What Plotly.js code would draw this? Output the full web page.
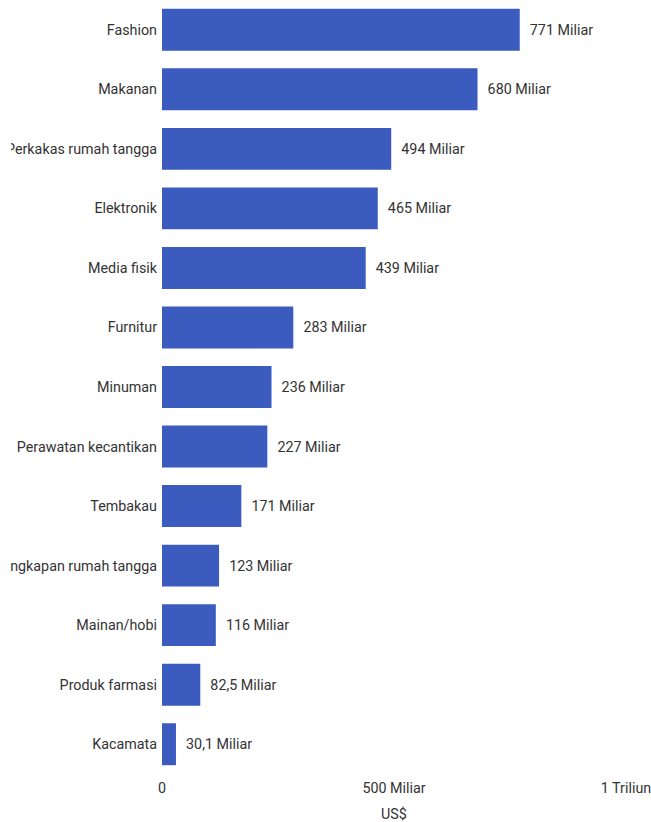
<!DOCTYPE html>
<html>
<head>
<meta charset="utf-8">
<script src="https://cdn.plot.ly/plotly-3.0.1.min.js"></script>
<style>
  html, body { margin: 0; padding: 0; background: #fff; }
  #chart { width: 651px; height: 822px; clip-path: inset(0 0 0 11px); }
</style>
</head>
<body>
<div id="chart"></div>
<script>
const categories = ["Fashion", "Makanan", "Perkakas rumah tangga", "Elektronik", "Media fisik", "Furnitur", "Minuman", "Perawatan kecantikan", "Tembakau", "Perlengkapan rumah tangga", "Mainan/hobi", "Produk farmasi", "Kacamata"];
const values = [771, 680, 494, 465, 439, 283, 236, 227, 171, 123, 116, 82.5, 30.1];
const valueLabels = ["771 Miliar", "680 Miliar", "494 Miliar", "465 Miliar", "439 Miliar", "283 Miliar", "236 Miliar", "227 Miliar", "171 Miliar", "123 Miliar", "116 Miliar", "82,5 Miliar", "30,1 Miliar"];
const tickValues = [0, 500, 1000];
const tickLabels = ["0", "500 Miliar", "1 Triliun"];

const fontFamily = "Roboto, 'Noto Sans', sans-serif";
const textColor = "#333333";
const fs = 14.3;

const trace = {
  type: "bar",
  orientation: "h",
  y: categories,
  x: values,
  text: valueLabels.map(s => "\u00a0\u00a0" + s),
  textposition: "outside",
  cliponaxis: false,
  textfont: { family: fontFamily, size: fs, color: textColor },
  marker: { color: "#3B5BBF" },
  hoverinfo: "none"
};

const layout = {
  width: 651,
  height: 822,
  margin: { l: 162, r: 25, t: 0, b: 48, pad: 0 },
  paper_bgcolor: "#ffffff",
  plot_bgcolor: "#ffffff",
  showlegend: false,
  bargap: 0.296,
  font: { family: fontFamily, size: fs, color: textColor },
  xaxis: {
    range: [0, 1000],
    tickmode: "array",
    tickvals: tickValues,
    ticktext: tickLabels,
    showgrid: false,
    zeroline: false,
    showline: false,
    ticks: "",
    ticklabelstandoff: 4,
    ticklabeloverflow: "allow",
    tickfont: { family: fontFamily, size: fs, color: textColor },
    title: { text: "US$", font: { family: fontFamily, size: fs, color: textColor }, standoff: 16 }
  },
  yaxis: {
    type: "category",
    autorange: "reversed",
    showgrid: false,
    zeroline: false,
    showline: false,
    ticks: "",
    ticklabelstandoff: 4,
    ticklabeloverflow: "allow",
    tickfont: { family: fontFamily, size: fs, color: textColor }
  }
};

Plotly.newPlot("chart", [trace], layout, { displayModeBar: false, staticPlot: true });
</script>
</body>
</html>
